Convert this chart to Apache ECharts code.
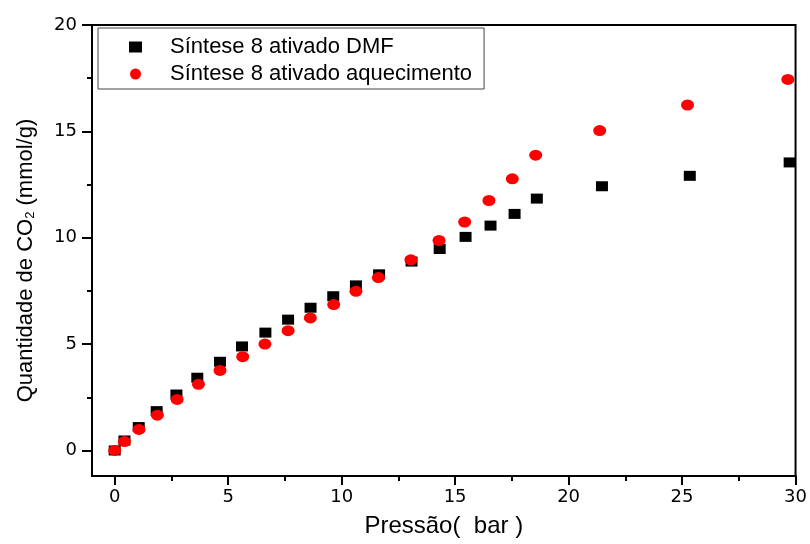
<!DOCTYPE html>
<html>
<head>
<meta charset="utf-8">
<script src="https://cdn.jsdelivr.net/npm/echarts@6/dist/echarts.min.js"></script>
<style>html,body{margin:0;padding:0;background:#fff}#c{width:810px;height:544px}</style>
</head>
<body>
<div id="c"></div>
<script>
const seriesNames = ['Síntese 8 ativado DMF', 'Síntese 8 ativado aquecimento'];
const pressureDMF = [0, 0.43, 1.06, 1.85, 2.72, 3.64, 4.64, 5.61, 6.64, 7.64, 8.63, 9.63, 10.63, 11.65, 13.08, 14.32, 15.46, 16.56, 17.62, 18.6, 21.47, 25.34, 29.74];
const uptakeDMF = [0, 0.47, 1.1, 1.85, 2.63, 3.42, 4.17, 4.89, 5.54, 6.15, 6.71, 7.25, 7.76, 8.28, 8.88, 9.47, 10.04, 10.57, 11.12, 11.84, 12.42, 12.91, 13.54];
const pressureHeat = [0, 0.43, 1.07, 1.88, 2.75, 3.69, 4.64, 5.64, 6.62, 7.64, 8.62, 9.65, 10.63, 11.62, 13.05, 14.29, 15.42, 16.49, 17.52, 18.55, 21.37, 25.24, 29.66];
const uptakeHeat = [0, 0.42, 0.99, 1.66, 2.4, 3.11, 3.76, 4.41, 5.0, 5.63, 6.23, 6.86, 7.48, 8.13, 8.96, 9.87, 10.74, 11.75, 12.77, 13.88, 15.04, 16.24, 17.44];
const xMajorTicks = [0, 5, 10, 15, 20, 25, 30];
const xMinorTicks = [2.5, 7.5, 12.5, 17.5, 22.5, 27.5];
const yMajorTicks = [0, 5, 10, 15, 20];
const yMinorTicks = [2.5, 7.5, 12.5, 17.5];

const tickFont = { fontFamily: 'DejaVu Sans', fontSize: 18, color: '#000' };
const chart = echarts.init(document.getElementById('c'), null, { renderer: 'canvas' });
const axisLine = { show: true, onZero: false, lineStyle: { color: '#000', width: 2 } };

chart.setOption({
  animation: false,
  backgroundColor: '#fff',
  grid: { left: 92, right: 14, top: 25, bottom: 68, show: true, borderColor: '#000', borderWidth: 2, backgroundColor: 'transparent' },
  legend: {
    left: 98, top: 28, orient: 'vertical',
    borderColor: '#444', borderWidth: 1,
    padding: [8, 12, 4, 31],
    itemWidth: 13, itemHeight: 11, itemGap: 5,
    textStyle: { fontFamily: 'Liberation Sans', fontSize: 22, color: '#000', padding: [0, 0, 0, 23] },
    data: seriesNames
  },
  xAxis: [{
    type: 'value', min: -1, max: 30, position: 'bottom',
    name: 'Pressão(  bar )', nameLocation: 'middle', nameGap: 38,
    nameTextStyle: { fontFamily: 'Liberation Sans', fontSize: 24, color: '#000' },
    axisLine: axisLine,
    axisTick: { show: true, inside: false, length: 9, customValues: xMajorTicks, lineStyle: { color: '#000', width: 2 } },
    axisLabel: Object.assign({ show: true, margin: 12, customValues: xMajorTicks }, tickFont),
    splitLine: { show: false }
  }, {
    type: 'value', min: -1, max: 30, position: 'bottom',
    axisLine: { show: false, onZero: false },
    axisTick: { show: true, inside: false, length: 5, customValues: xMinorTicks, lineStyle: { color: '#000', width: 2 } },
    axisLabel: { show: false },
    splitLine: { show: false }
  }],
  yAxis: [{
    type: 'value', min: -1.2, max: 20, position: 'left',
    name: 'Quantidade de CO{sub|2} (mmol/g)', nameLocation: 'middle', nameGap: 55,
    nameTextStyle: { fontFamily: 'Liberation Sans', fontSize: 22, color: '#000', padding: [0, 20, 0, 0],
      rich: { sub: { fontFamily: 'Liberation Sans', fontSize: 13, color: '#000', padding: [9, 0, 0, 0] } } },
    axisLine: axisLine,
    axisTick: { show: true, inside: false, length: 10, customValues: yMajorTicks, lineStyle: { color: '#000', width: 2 } },
    axisLabel: Object.assign({ show: true, margin: 15, customValues: yMajorTicks }, tickFont),
    splitLine: { show: false }
  }, {
    type: 'value', min: -1.2, max: 20, position: 'left',
    axisLine: { show: false, onZero: false },
    axisTick: { show: true, inside: false, length: 5, customValues: yMinorTicks, lineStyle: { color: '#000', width: 2 } },
    axisLabel: { show: false },
    splitLine: { show: false }
  }],
  series: [{
    name: seriesNames[0], type: 'scatter', xAxisIndex: 0, yAxisIndex: 0,
    symbol: 'rect', symbolSize: [12, 10],
    itemStyle: { color: '#000', opacity: 1 },
    data: pressureDMF.map((x, i) => [x, uptakeDMF[i]])
  }, {
    name: seriesNames[1], type: 'scatter', xAxisIndex: 0, yAxisIndex: 0,
    symbol: 'path://M0,10a10,10 0 1,0 20,0a10,10 0 1,0 -20,0', symbolSize: [13, 11],
    itemStyle: { color: '#ff0000', opacity: 1 },
    data: pressureHeat.map((x, i) => [x, uptakeHeat[i]])
  }]
});
</script>
</body>
</html>
